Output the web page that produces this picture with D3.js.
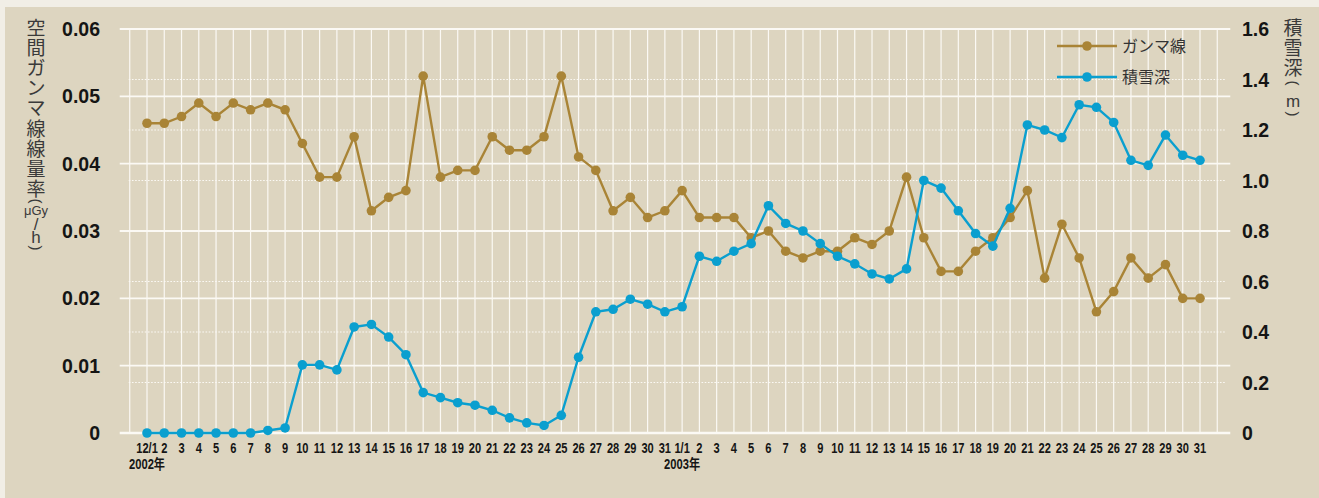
<!DOCTYPE html>
<html>
<head>
<meta charset="utf-8">
<script src="https://cdn.jsdelivr.net/npm/d3@7"></script>
<style>
  body { margin: 0; background: #f1eee6; }
  svg { display: block; }
</style>
</head>
<body>
<svg width="1319" height="498"></svg>
<script>
// day labels, Dec 2002 then Jan 2003
var decDays = d3.range(1, 32).map(function (d) { return d == 1 ? "12/1" : String(d); });
var janDays = d3.range(1, 32).map(function (d) { return d == 1 ? "1/1" : String(d); });
var dayLabels = decDays.concat(janDays);

var yearLabels = [ { at: 0, text: "2002年" }, { at: 31, text: "2003年" } ];

// 空間ガンマ線線量率 (μGy/h)
var gamma = [
  0.046, 0.046, 0.047, 0.049, 0.047, 0.049, 0.048, 0.049, 0.048, 0.043,
  0.038, 0.038, 0.044, 0.033, 0.035, 0.036, 0.053, 0.038, 0.039, 0.039,
  0.044, 0.042, 0.042, 0.044, 0.053, 0.041, 0.039, 0.033, 0.035, 0.032,
  0.033,
  0.036, 0.032, 0.032, 0.032, 0.029, 0.030, 0.027, 0.026, 0.027, 0.027,
  0.029, 0.028, 0.030, 0.038, 0.029, 0.024, 0.024, 0.027, 0.029, 0.032,
  0.036, 0.023, 0.031, 0.026, 0.018, 0.021, 0.026, 0.023, 0.025, 0.020,
  0.020
];

// 積雪深 (m)
var snow = [
  0, 0, 0, 0, 0, 0, 0, 0.01, 0.02, 0.27,
  0.27, 0.25, 0.42, 0.43, 0.38, 0.31, 0.16, 0.14, 0.12, 0.11,
  0.09, 0.06, 0.04, 0.03, 0.07, 0.30, 0.48, 0.49, 0.53, 0.51,
  0.48,
  0.50, 0.70, 0.68, 0.72, 0.75, 0.90, 0.83, 0.80, 0.75, 0.70,
  0.67, 0.63, 0.61, 0.65, 1.00, 0.97, 0.88, 0.79, 0.74, 0.89,
  1.22, 1.20, 1.17, 1.30, 1.29, 1.23, 1.08, 1.06, 1.18, 1.10,
  1.08
];

var leftTicks = [0, 0.01, 0.02, 0.03, 0.04, 0.05, 0.06];
var rightTicks = [0, 0.2, 0.4, 0.6, 0.8, 1.0, 1.2, 1.4, 1.6];

var series = [
  { name: "ガンマ線", values: gamma, axis: "left", colour: "#a98436" },
  { name: "積雪深", values: snow, axis: "right", colour: "#0a9fcf" }
];

var svg = d3.select("svg");

var bg = "#ddd5c0";
svg.append("rect").attr("x", 5).attr("y", 7).attr("width", 1314).attr("height", 491).attr("fill", bg);

var x = d3.scaleLinear().domain([0, dayLabels.length - 1]).range([147, 1200]);
var yL = d3.scaleLinear().domain([0, 0.06]).range([433, 29]);
var yR = d3.scaleLinear().domain([0, 1.6]).range([433, 29]);

var grid = svg.append("g").attr("class", "grid");

// vertical gridlines, one per day plus the two edges
grid.selectAll("line.v")
  .data(d3.range(-1, dayLabels.length + 1))
  .enter().append("line")
    .attr("class", "v")
    .attr("x1", function (d) { return x(d); })
    .attr("x2", function (d) { return x(d); })
    .attr("y1", yL(0.06))
    .attr("y2", yL(0))
    .attr("stroke", "#fbf9f4")
    .attr("stroke-width", 1.2);

// dotted lines for the right axis
grid.selectAll("line.r")
  .data(rightTicks.filter(function (d) { return d > 0 && d < 1.6 && Math.abs(d - 0.8) > 1e-6; }))
  .enter().append("line")
    .attr("class", "r")
    .attr("x1", x(-1) - 1)
    .attr("x2", x(dayLabels.length) + 8)
    .attr("y1", function (d) { return yR(d); })
    .attr("y2", function (d) { return yR(d); })
    .attr("stroke", "#fbf9f4")
    .attr("stroke-width", 1.2)
    .attr("stroke-dasharray", "1.6,1.6");

// solid lines for the left axis
grid.selectAll("line.l")
  .data(leftTicks)
  .enter().append("line")
    .attr("class", "l")
    .attr("x1", x(-1) - 10)
    .attr("x2", x(dayLabels.length) + 13)
    .attr("y1", function (d) { return yL(d); })
    .attr("y2", function (d) { return yL(d); })
    .attr("stroke", "#fbf9f4")
    .attr("stroke-width", function (d) { return d == 0 ? 2.6 : 1.8; });

// left tick labels
svg.append("g").selectAll("text")
  .data(leftTicks)
  .enter().append("text")
    .attr("x", 100)
    .attr("y", function (d) { return yL(d); })
    .attr("dy", "0.36em")
    .attr("text-anchor", "end")
    .attr("font-family", "'Liberation Sans', Arial, sans-serif")
    .attr("font-weight", "bold")
    .attr("font-size", 19.5)
    .attr("fill", "#151515")
    .text(function (d) { return d == 0 ? "0" : d3.format(".2f")(d); });

// right tick labels
svg.append("g").selectAll("text")
  .data(rightTicks)
  .enter().append("text")
    .attr("x", 1242)
    .attr("y", function (d) { return yR(d); })
    .attr("dy", "0.36em")
    .attr("font-family", "'Liberation Sans', Arial, sans-serif")
    .attr("font-weight", "bold")
    .attr("font-size", 19.5)
    .attr("fill", "#151515")
    .text(function (d) { return d == 0 ? "0" : d3.format(".1f")(d); });

// day labels (condensed by squeezing horizontally)
svg.append("g").selectAll("text")
  .data(dayLabels)
  .enter().append("text")
    .attr("transform", function (d, i) { return "translate(" + x(i) + ",453) scale(0.74,1)"; })
    .attr("text-anchor", "middle")
    .attr("font-family", "'Liberation Sans', Arial, sans-serif")
    .attr("font-weight", "bold")
    .attr("font-size", 15)
    .attr("fill", "#151515")
    .text(function (d) { return d; });

svg.append("g").selectAll("text")
  .data(yearLabels)
  .enter().append("text")
    .attr("transform", function (d) { return "translate(" + x(d.at) + ",469) scale(0.8,1)"; })
    .attr("text-anchor", "middle")
    .attr("font-family", "'Liberation Sans', 'Noto Sans CJK JP', sans-serif")
    .attr("font-weight", "bold")
    .attr("font-size", 14)
    .attr("fill", "#151515")
    .text(function (d) { return d.text; });

// lines and markers
series.forEach(function (s) {
  var yy = s.axis == "left" ? yL : yR;
  var line = d3.line()
    .x(function (d, i) { return x(i); })
    .y(function (d) { return yy(d); });
  var g = svg.append("g");
  g.append("path")
    .datum(s.values)
    .attr("d", line)
    .attr("fill", "none")
    .attr("stroke", s.colour)
    .attr("stroke-width", 2.4);
  g.selectAll("circle")
    .data(s.values)
    .enter().append("circle")
      .attr("cx", function (d, i) { return x(i); })
      .attr("cy", function (d) { return yy(d); })
      .attr("r", 4.8)
      .attr("fill", s.colour);
});

// legend
var legend = svg.append("g").selectAll("g")
  .data(series)
  .enter().append("g")
    .attr("transform", function (d, i) { return "translate(1057," + (46 + i * 31) + ")"; });
legend.append("line")
  .attr("x1", 0).attr("x2", 60)
  .attr("stroke", function (d) { return d.colour; })
  .attr("stroke-width", 2.4);
legend.append("circle")
  .attr("cx", 30).attr("r", 4.8)
  .attr("fill", function (d) { return d.colour; });
legend.append("text")
  .attr("x", 65)
  .attr("dy", "0.36em")
  .attr("font-family", "'Noto Sans CJK JP', sans-serif")
  .attr("font-size", 16)
  .attr("fill", "#333")
  .text(function (d) { return d.name; });

// vertical axis titles, one glyph at a time; brackets are turned a quarter
var leftTitle = [
  { t: "空", y: 28 }, { t: "間", y: 48 }, { t: "ガ", y: 68 }, { t: "ン", y: 88 },
  { t: "マ", y: 108 }, { t: "線", y: 129 }, { t: "線", y: 149 }, { t: "量", y: 169 },
  { t: "率", y: 189 }, { t: "(", y: 201, s: 15, rot: true }, { t: "μGy", y: 210, s: 13 },
  { t: "/", y: 224, s: 17 }, { t: "h", y: 237, s: 17 }, { t: ")", y: 248, s: 15, rot: true }
];
var rightTitle = [
  { t: "積", y: 28 }, { t: "雪", y: 48 }, { t: "深", y: 68 },
  { t: "(", y: 83, s: 15, rot: true }, { t: "m", y: 101, s: 17 }, { t: ")", y: 114, s: 15, rot: true }
];

function drawTitle(chars, cx) {
  svg.append("g").selectAll("text")
    .data(chars)
    .enter().append("text")
      .attr("transform", function (d) {
        return "translate(" + cx + "," + d.y + ")" + (d.rot ? " rotate(90)" : "");
      })
      .attr("dy", "0.35em")
      .attr("text-anchor", "middle")
      .attr("font-family", function (d) {
        return d.s ? "'Liberation Sans', Arial, sans-serif" : "'Noto Sans CJK JP', sans-serif";
      })
      .attr("font-size", function (d) { return d.s || 19; })
      .attr("fill", "#3a3a3a")
      .text(function (d) { return d.t; });
}
drawTitle(leftTitle, 36);
drawTitle(rightTitle, 1293);
</script>
</body>
</html>
